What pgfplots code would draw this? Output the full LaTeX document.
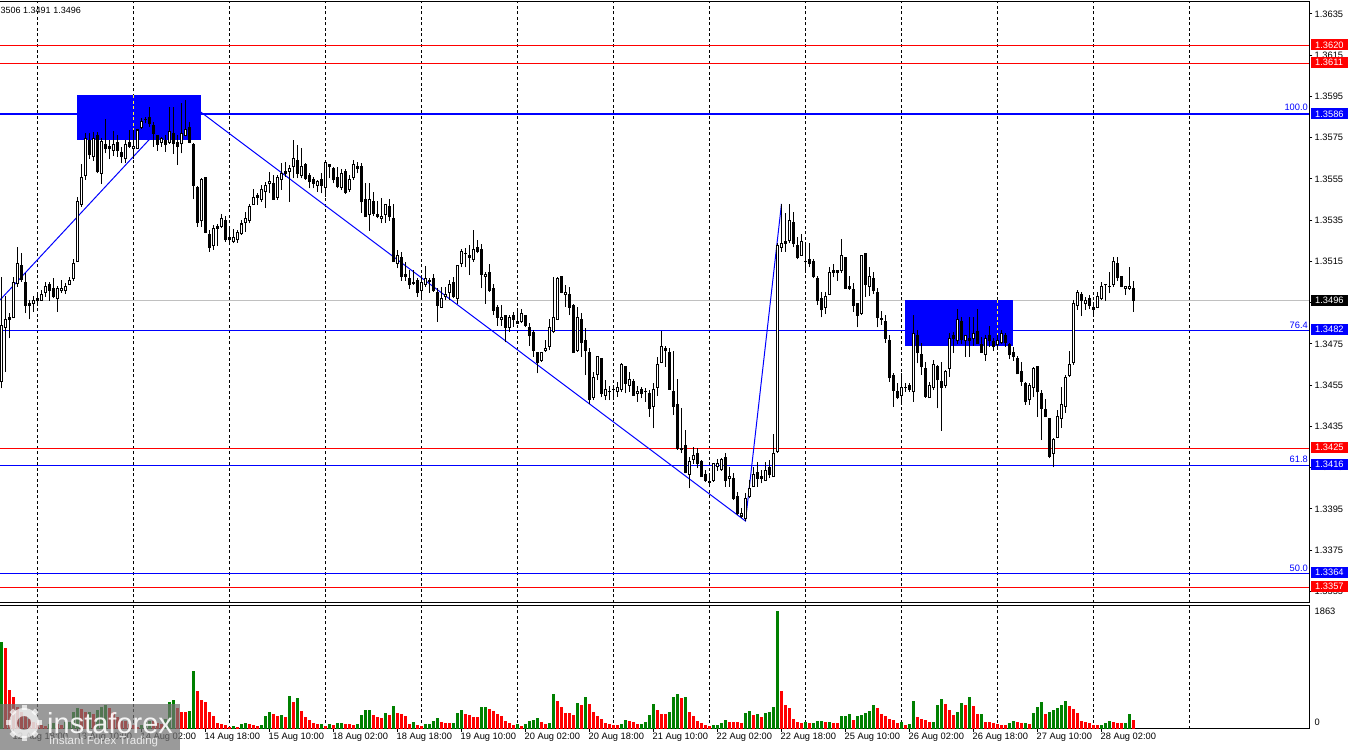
\documentclass[border=0pt]{standalone}
\usepackage{fontspec}
\setmainfont{Liberation Sans}
\usepackage{pgfplots}
\usepackage{pgfplotstable}
\pgfplotsset{compat=1.18}
\definecolor{mtgreen}{RGB}{0,128,0}
\definecolor{mtblue}{RGB}{0,0,255}
\definecolor{mtred}{RGB}{255,0,0}
\definecolor{mtgrey}{RGB}{192,192,192}
\pgfplotstableread{
k o h l c
0 1.34567 1.35076 1.34535 1.34839
1 1.34830 1.34982 1.34615 1.34871
2 1.34879 1.34898 1.34777 1.34869
3 1.34879 1.35076 1.34874 1.35049
4 1.35041 1.35218 1.35028 1.35141
5 1.35131 1.35189 1.35052 1.35060
6 1.35049 1.35092 1.34898 1.34936
7 1.34947 1.34963 1.34869 1.34936
8 1.34945 1.34982 1.34906 1.34963
9 1.34971 1.34995 1.34934 1.34960
10 1.34961 1.35012 1.34960 1.34992
11 1.35000 1.35052 1.34979 1.35031
12 1.35039 1.35052 1.34960 1.35008
13 1.35020 1.35068 1.34971 1.34979
14 1.34971 1.35031 1.34906 1.35020
15 1.35008 1.35060 1.34999 1.35020
16 1.35008 1.35044 1.34992 1.35029
17 1.35039 1.35076 1.35036 1.35058
18 1.35066 1.35162 1.35057 1.35141
19 1.35149 1.35461 1.35149 1.35442
20 1.35427 1.35623 1.35416 1.35558
21 1.35566 1.35771 1.35545 1.35747
22 1.35739 1.35771 1.35647 1.35666
23 1.35658 1.35779 1.35637 1.35747
24 1.35762 1.35779 1.35577 1.35584
25 1.35577 1.35747 1.35526 1.35731
26 1.35718 1.35839 1.35674 1.35697
27 1.35710 1.35739 1.35645 1.35697
28 1.35687 1.35783 1.35661 1.35718
29 1.35729 1.35763 1.35658 1.35687
30 1.35679 1.35707 1.35626 1.35658
31 1.35647 1.35739 1.35626 1.35718
32 1.35729 1.35788 1.35699 1.35708
33 1.35697 1.35788 1.35647 1.35708
34 1.35697 1.35790 1.35697 1.35788
35 1.35800 1.35844 1.35791 1.35828
36 1.35836 1.35852 1.35820 1.35839
37 1.35849 1.35897 1.35804 1.35817
38 1.35809 1.35828 1.35707 1.35771
39 1.35760 1.35763 1.35687 1.35718
40 1.35726 1.35755 1.35707 1.35745
41 1.35739 1.35763 1.35682 1.35718
42 1.35728 1.35897 1.35720 1.35779
43 1.35771 1.35897 1.35671 1.35720
44 1.35729 1.35763 1.35618 1.35708
45 1.35720 1.35917 1.35674 1.35771
46 1.35762 1.35933 1.35760 1.35791
47 1.35800 1.35828 1.35723 1.35728
48 1.35718 1.35723 1.35451 1.35518
49 1.35509 1.35515 1.35319 1.35338
50 1.35346 1.35553 1.35319 1.35548
51 1.35558 1.35558 1.35286 1.35290
52 1.35283 1.35303 1.35197 1.35218
53 1.35225 1.35327 1.35206 1.35309
54 1.35322 1.35332 1.35227 1.35311
55 1.35319 1.35379 1.35311 1.35359
56 1.35351 1.35372 1.35246 1.35254
57 1.35267 1.35311 1.35230 1.35254
58 1.35248 1.35306 1.35238 1.35267
59 1.35254 1.35303 1.35241 1.35290
60 1.35283 1.35351 1.35280 1.35332
61 1.35338 1.35391 1.35294 1.35359
62 1.35348 1.35429 1.35335 1.35419
63 1.35425 1.35500 1.35424 1.35461
64 1.35471 1.35480 1.35424 1.35461
65 1.35451 1.35521 1.35440 1.35500
66 1.35488 1.35537 1.35408 1.35519
67 1.35527 1.35585 1.35480 1.35539
68 1.35529 1.35569 1.35448 1.35451
69 1.35461 1.35569 1.35448 1.35558
70 1.35548 1.35626 1.35497 1.35577
71 1.35587 1.35634 1.35561 1.35576
72 1.35585 1.35618 1.35440 1.35602
73 1.35610 1.35739 1.35553 1.35650
74 1.35642 1.35715 1.35553 1.35577
75 1.35566 1.35698 1.35553 1.35612
76 1.35622 1.35629 1.35545 1.35554
77 1.35567 1.35577 1.35504 1.35535
78 1.35548 1.35561 1.35504 1.35528
79 1.35519 1.35545 1.35488 1.35538
80 1.35548 1.35577 1.35480 1.35519
81 1.35509 1.35642 1.35464 1.35630
82 1.35620 1.35622 1.35553 1.35610
83 1.35603 1.35606 1.35528 1.35545
84 1.35558 1.35606 1.35504 1.35515
85 1.35509 1.35596 1.35496 1.35577
86 1.35585 1.35596 1.35477 1.35486
87 1.35498 1.35569 1.35488 1.35548
88 1.35558 1.35642 1.35545 1.35620
89 1.35611 1.35630 1.35577 1.35600
90 1.35612 1.35625 1.35386 1.35439
91 1.35451 1.35528 1.35365 1.35367
92 1.35377 1.35528 1.35299 1.35451
93 1.35443 1.35488 1.35370 1.35383
94 1.35380 1.35443 1.35359 1.35367
95 1.35359 1.35456 1.35335 1.35367
96 1.35377 1.35428 1.35338 1.35425
97 1.35417 1.35451 1.35347 1.35367
98 1.35359 1.35428 1.35147 1.35149
99 1.35140 1.35205 1.35116 1.35178
100 1.35170 1.35197 1.35056 1.35076
101 1.35087 1.35149 1.35056 1.35076
102 1.35068 1.35108 1.35016 1.35037
103 1.35048 1.35108 1.35036 1.35045
104 1.35058 1.35068 1.34979 1.34998
105 1.35008 1.35076 1.34979 1.35048
106 1.35039 1.35129 1.35027 1.35066
107 1.35056 1.35068 1.34998 1.35053
108 1.35068 1.35087 1.35003 1.35008
109 1.35000 1.35019 1.34857 1.34937
110 1.34927 1.35027 1.34925 1.34971
111 1.34980 1.35027 1.34963 1.34992
112 1.34998 1.35060 1.34963 1.35040
113 1.35048 1.35076 1.34971 1.34979
114 1.34971 1.35132 1.34946 1.35132
115 1.35140 1.35208 1.35121 1.35199
116 1.35190 1.35213 1.35121 1.35187
117 1.35179 1.35229 1.35084 1.35170
118 1.35160 1.35302 1.35149 1.35208
119 1.35218 1.35254 1.35189 1.35199
120 1.35208 1.35237 1.35019 1.35087
121 1.35076 1.35100 1.34946 1.35087
122 1.35097 1.35140 1.35003 1.35008
123 1.35019 1.35043 1.34890 1.34914
124 1.34927 1.34939 1.34838 1.34878
125 1.34869 1.34939 1.34838 1.34878
126 1.34888 1.34890 1.34757 1.34830
127 1.34830 1.34890 1.34809 1.34878
128 1.34888 1.34906 1.34833 1.34869
129 1.34859 1.34922 1.34846 1.34848
130 1.34857 1.34917 1.34853 1.34898
131 1.34888 1.34890 1.34830 1.34838
132 1.34830 1.34853 1.34739 1.34788
133 1.34804 1.34817 1.34688 1.34717
134 1.34709 1.34712 1.34607 1.34659
135 1.34668 1.34712 1.34663 1.34709
136 1.34717 1.34769 1.34712 1.34728
137 1.34736 1.34869 1.34720 1.34830
138 1.34809 1.35076 1.34801 1.34878
139 1.34869 1.35076 1.34866 1.35068
140 1.35079 1.35079 1.34995 1.35000
141 1.34989 1.35035 1.34930 1.35000
142 1.34992 1.35027 1.34890 1.34927
143 1.34937 1.34946 1.34705 1.34707
144 1.34717 1.34930 1.34712 1.34878
145 1.34869 1.34898 1.34688 1.34756
146 1.34769 1.34826 1.34599 1.34717
147 1.34709 1.34729 1.34457 1.34478
148 1.34489 1.34615 1.34478 1.34588
149 1.34599 1.34688 1.34575 1.34688
150 1.34680 1.34680 1.34491 1.34510
151 1.34501 1.34575 1.34478 1.34530
152 1.34522 1.34546 1.34478 1.34518
153 1.34530 1.34551 1.34478 1.34527
154 1.34520 1.34567 1.34494 1.34539
155 1.34530 1.34656 1.34519 1.34651
156 1.34640 1.34643 1.34510 1.34559
157 1.34549 1.34615 1.34519 1.34578
158 1.34569 1.34578 1.34497 1.34501
159 1.34510 1.34546 1.34470 1.34520
160 1.34530 1.34539 1.34486 1.34510
161 1.34522 1.34535 1.34470 1.34518
162 1.34510 1.34527 1.34397 1.34438
163 1.34446 1.34559 1.34341 1.34530
164 1.34539 1.34688 1.34497 1.34651
165 1.34661 1.34814 1.34656 1.34738
166 1.34729 1.34740 1.34640 1.34717
167 1.34709 1.34729 1.34527 1.34530
168 1.34520 1.34717 1.34405 1.34446
169 1.34457 1.34578 1.34236 1.34244
170 1.34244 1.34438 1.34219 1.34236
171 1.34258 1.34333 1.34122 1.34126
172 1.34117 1.34203 1.34050 1.34181
173 1.34190 1.34248 1.34168 1.34210
174 1.34219 1.34244 1.34147 1.34168
175 1.34181 1.34187 1.34104 1.34106
176 1.34117 1.34139 1.34082 1.34087
177 1.34082 1.34114 1.34061 1.34079
178 1.34087 1.34174 1.34082 1.34171
179 1.34155 1.34190 1.34135 1.34171
180 1.34139 1.34195 1.34135 1.34190
181 1.34200 1.34223 1.34058 1.34087
182 1.34098 1.34151 1.34058 1.34108
183 1.34098 1.34122 1.33993 1.34000
184 1.34011 1.34033 1.33920 1.33925
185 1.33915 1.33953 1.33904 1.33930
186 1.33904 1.34029 1.33893 1.34001
187 1.34009 1.34090 1.34001 1.34050
188 1.34058 1.34155 1.34056 1.34117
189 1.34127 1.34179 1.34058 1.34097
190 1.34108 1.34139 1.34074 1.34097
191 1.34087 1.34179 1.34085 1.34137
192 1.34151 1.34187 1.34098 1.34114
193 1.34106 1.34313 1.34104 1.34219
194 1.34227 1.35238 1.34222 1.35230
195 1.35218 1.35429 1.35197 1.35238
196 1.35249 1.35383 1.35197 1.35238
197 1.35249 1.35429 1.35238 1.35348
198 1.35340 1.35391 1.35218 1.35238
199 1.35230 1.35270 1.35160 1.35168
200 1.35178 1.35281 1.35178 1.35246
201 1.35152 1.35246 1.35100 1.35149
202 1.35160 1.35241 1.35121 1.35140
203 1.35150 1.35160 1.35068 1.35076
204 1.35068 1.35079 1.34939 1.34959
205 1.34973 1.35003 1.34879 1.34915
206 1.34927 1.35003 1.34895 1.34980
207 1.34990 1.35121 1.34987 1.35097
208 1.35107 1.35140 1.35073 1.35096
209 1.35107 1.35109 1.35057 1.35096
210 1.35107 1.35257 1.35096 1.35180
211 1.35170 1.35170 1.35018 1.35020
212 1.35030 1.35079 1.35012 1.35020
213 1.35012 1.35044 1.34906 1.34936
214 1.34947 1.34950 1.34830 1.34888
215 1.34898 1.35181 1.34890 1.35180
216 1.35189 1.35192 1.34979 1.35037
217 1.35028 1.35121 1.34982 1.35078
218 1.35068 1.35100 1.34992 1.35008
219 1.35000 1.35020 1.34830 1.34879
220 1.34872 1.34911 1.34842 1.34869
221 1.34860 1.34888 1.34756 1.34777
222 1.34767 1.34793 1.34567 1.34586
223 1.34598 1.34607 1.34446 1.34526
224 1.34522 1.34559 1.34481 1.34490
225 1.34499 1.34607 1.34470 1.34541
226 1.34541 1.34562 1.34519 1.34538
227 1.34549 1.34559 1.34519 1.34528
228 1.34520 1.34890 1.34470 1.34800
229 1.34792 1.34817 1.34656 1.34708
230 1.34701 1.34753 1.34600 1.34640
231 1.34633 1.34664 1.34490 1.34497
232 1.34489 1.34567 1.34487 1.34549
233 1.34538 1.34672 1.34526 1.34651
234 1.34641 1.34648 1.34438 1.34575
235 1.34570 1.34664 1.34329 1.34540
236 1.34549 1.34624 1.34534 1.34617
237 1.34632 1.34801 1.34591 1.34777
238 1.34792 1.34810 1.34708 1.34774
239 1.34766 1.34918 1.34750 1.34869
240 1.34860 1.34882 1.34750 1.34772
241 1.34766 1.34793 1.34688 1.34790
242 1.34779 1.34879 1.34688 1.34764
243 1.34775 1.34882 1.34740 1.34801
244 1.34811 1.34918 1.34752 1.34754
245 1.34750 1.34785 1.34706 1.34708
246 1.34698 1.34793 1.34669 1.34775
247 1.34792 1.34837 1.34737 1.34764
248 1.34761 1.34777 1.34717 1.34737
249 1.34746 1.34793 1.34729 1.34766
250 1.34756 1.34818 1.34752 1.34801
251 1.34792 1.34801 1.34737 1.34756
252 1.34748 1.34753 1.34675 1.34696
253 1.34709 1.34737 1.34669 1.34688
254 1.34682 1.34691 1.34602 1.34604
255 1.34617 1.34664 1.34546 1.34567
256 1.34559 1.34567 1.34454 1.34468
257 1.34481 1.34559 1.34454 1.34549
258 1.34538 1.34640 1.34491 1.34632
259 1.34641 1.34643 1.34397 1.34517
260 1.34510 1.34527 1.34284 1.34436
261 1.34430 1.34481 1.34394 1.34397
262 1.34389 1.34392 1.34195 1.34206
263 1.34219 1.34292 1.34151 1.34287
264 1.34297 1.34430 1.34292 1.34397
265 1.34389 1.34539 1.34344 1.34457
266 1.34447 1.34599 1.34417 1.34590
267 1.34598 1.34717 1.34591 1.34651
268 1.34659 1.34963 1.34648 1.34947
269 1.34936 1.35012 1.34915 1.35002
270 1.34992 1.35003 1.34885 1.34961
271 1.34945 1.34979 1.34915 1.34963
272 1.34971 1.34987 1.34918 1.34937
273 1.34927 1.34955 1.34882 1.34918
274 1.34927 1.35003 1.34923 1.34981
275 1.34969 1.35052 1.34963 1.35029
276 1.35036 1.35039 1.34960 1.35039
277 1.35029 1.35097 1.34995 1.35026
278 1.35039 1.35170 1.35028 1.35149
279 1.35141 1.35170 1.35057 1.35070
280 1.35078 1.35079 1.35024 1.35028
281 1.35018 1.35031 1.34987 1.35029
282 1.35018 1.35121 1.35012 1.35029
283 1.35020 1.35057 1.34906 1.34961
}\candles
\pgfplotstableread{
k v g
0 1370 1
1 1286 0
2 611 0
3 501 0
4 348 0
5 264 0
6 211 0
7 158 0
8 116 0
9 95 0
10 63 0
11 47 0
12 74 1
13 95 1
14 74 0
15 63 0
16 105 1
17 116 1
18 264 1
19 327 1
20 316 0
21 264 0
22 274 1
23 237 0
24 306 1
25 343 1
26 385 1
27 327 0
28 264 0
29 184 0
30 126 0
31 126 0
32 79 0
33 63 0
34 32 0
35 63 1
36 105 1
37 132 1
38 132 0
39 95 0
40 79 0
41 158 1
42 422 1
43 464 1
44 327 0
45 264 0
46 264 0
47 279 1
48 922 1
49 606 0
50 464 0
51 432 0
52 274 0
53 211 0
54 95 0
55 84 0
56 63 0
57 32 0
58 53 1
59 32 0
60 79 1
61 95 1
62 79 0
63 69 0
64 53 0
65 63 1
66 200 1
67 274 1
68 242 0
69 206 0
70 221 1
71 190 0
72 527 1
73 432 0
74 495 1
75 290 0
76 190 0
77 142 0
78 95 0
79 79 0
80 79 1
81 47 0
82 79 1
83 63 0
84 95 1
85 95 1
86 79 0
87 79 0
88 63 0
89 79 1
90 227 1
91 306 1
92 306 1
93 227 0
94 190 0
95 174 0
96 253 1
97 221 0
98 369 1
99 253 0
100 232 0
101 200 0
102 84 0
103 105 1
104 63 0
105 53 0
106 74 1
107 74 1
108 121 1
109 169 1
110 105 0
111 90 0
112 90 0
113 90 1
114 248 1
115 295 1
116 232 0
117 216 0
118 184 0
119 184 0
120 343 1
121 343 1
122 311 0
123 279 0
124 232 0
125 200 0
126 121 0
127 90 0
128 58 0
129 74 1
130 42 0
131 74 1
132 121 1
133 137 1
134 169 1
135 105 0
136 74 0
137 90 1
138 548 1
139 437 0
140 343 0
141 248 0
142 248 0
143 216 0
144 406 1
145 374 0
146 501 1
147 390 0
148 264 0
149 200 0
150 153 0
151 90 0
152 74 0
153 58 0
154 58 0
155 74 1
156 137 1
157 121 0
158 105 0
159 74 0
160 74 1
161 105 1
162 216 1
163 390 1
164 295 0
165 232 0
166 232 0
167 264 1
168 501 1
169 548 1
170 485 0
171 501 1
172 264 0
173 200 0
174 121 0
175 90 0
176 58 0
177 42 0
178 58 1
179 58 1
180 90 1
181 137 1
182 105 0
183 105 0
184 105 0
185 90 0
186 248 1
187 279 1
188 216 0
189 232 1
190 184 0
191 248 1
192 264 1
193 343 1
194 1863 1
195 595 0
196 374 0
197 327 0
198 153 0
199 105 0
200 90 0
201 105 1
202 90 0
203 90 1
204 121 1
205 121 1
206 105 0
207 105 1
208 90 0
209 90 0
210 200 1
211 200 1
212 232 1
213 137 0
214 200 1
215 216 1
216 248 1
217 279 1
218 374 1
219 327 0
220 232 0
221 200 0
222 153 0
223 137 0
224 90 0
225 105 1
226 58 0
227 74 1
228 437 1
229 184 0
230 153 0
231 137 0
232 105 0
233 105 1
234 374 1
235 469 1
236 390 0
237 295 0
238 216 0
239 264 1
240 406 1
241 374 0
242 501 1
243 358 0
244 232 0
245 232 1
246 105 0
247 105 0
248 90 0
249 74 0
250 58 0
251 58 0
252 90 1
253 121 1
254 105 0
255 90 0
256 90 1
257 74 0
258 248 1
259 343 1
260 422 1
261 232 0
262 264 1
263 295 1
264 327 1
265 374 1
266 437 1
267 358 0
268 311 0
269 248 0
270 121 0
271 105 0
272 90 0
273 58 0
274 58 0
275 58 1
276 90 1
277 121 1
278 105 0
279 90 0
280 90 0
281 90 1
282 232 1
283 137 0
}\volumes
\begin{document}
\begin{tikzpicture}[x=1pt,y=1pt]
\useasboundingbox (0,0) rectangle (1350,750);
\fontsize{9.3}{11}\selectfont
\begin{axis}[
  at={(-2pt,147pt)}, anchor=south west,
  scale only axis, width=1311.5pt, height=601pt,
  xmin=-0.875, xmax=327, ymin=1.334936, ymax=1.364082,
  axis line style={line width=1pt,black},
  xtick={9,33,...,297}, xticklabels={}, x tick style={draw=none},
  xmajorgrids, major x grid style={black,line width=1pt,dash pattern=on 3pt off 2.5pt},
  ytick={1.3355,1.3375,1.3395,1.3415,1.3435,1.3455,1.3475,1.3495,1.3515,1.3535,1.3555,1.3575,1.3595,1.3615,1.3635},
  yticklabels={1.3355,1.3375,1.3395,1.3415,1.3435,1.3455,1.3475,1.3495,1.3515,1.3535,1.3555,1.3575,1.3595,1.3615,1.3635},
  ytick pos=right, yticklabel pos=right,
  y tick style={black,line width=1pt}, major tick length=3pt, tick align=outside,
  yticklabel style={font=\fontsize{9.3}{11}\selectfont,anchor=west,inner sep=0pt,xshift=2pt},
]
% blue rectangles
\addplot[draw=none,fill=mtblue,forget plot] coordinates {(18.875,1.35957)(49.875,1.35957)(49.875,1.35739)(18.875,1.35739)} -- cycle;
\addplot[draw=none,fill=mtblue,forget plot] coordinates {(225.875,1.34963)(252.8,1.34963)(252.8,1.34741)(225.875,1.34741)} -- cycle;
\addplot[yellow!80!white,line width=1pt,dash pattern=on 3pt off 2.5pt,forget plot] coordinates {(33,1.35957)(33,1.35739)};
\addplot[yellow!80!white,line width=1pt,dash pattern=on 3pt off 2.5pt,forget plot] coordinates {(249,1.34963)(249,1.34741)};
% level lines
\addplot[mtred,line width=1.2pt,forget plot] coordinates {(-0.875,1.361972)(327,1.361972)};
\addplot[mtred,line width=1.2pt,forget plot] coordinates {(-0.875,1.361099)(327,1.361099)};
\addplot[mtblue,line width=2pt,forget plot] coordinates {(-0.875,1.35865)(18.875,1.35865)};
\addplot[mtblue,line width=2pt,forget plot] coordinates {(49.875,1.35865)(327,1.35865)};
\addplot[mtgrey,line width=1pt,forget plot] coordinates {(-0.875,1.349606)(225.875,1.349606)};
\addplot[mtgrey,line width=1pt,forget plot] coordinates {(252.8,1.349606)(327,1.349606)};
\addplot[mtblue,line width=1.2pt,forget plot] coordinates {(-0.875,1.348151)(327,1.348151)};
\addplot[mtred,line width=1.2pt,forget plot] coordinates {(-0.875,1.342428)(327,1.342428)};
\addplot[mtblue,line width=1.2pt,forget plot] coordinates {(-0.875,1.341604)(327,1.341604)};
\addplot[mtblue,line width=1.2pt,forget plot] coordinates {(-0.875,1.336366)(327,1.336366)};
\addplot[mtred,line width=1.2pt,forget plot] coordinates {(-0.875,1.335687)(327,1.335687)};
% zigzag
\addplot[mtblue,line width=1pt,forget plot] coordinates {(-0.375,1.34963)(46,1.3593)(186,1.33891)(195,1.35429)};
% wicks
\addplot[draw=none,mark=none,forget plot,error bars/.cd,y dir=plus,y explicit,error mark=none,
  error bar style={draw=black,line width=1pt}]
  table[x=k,y=l,y error expr={\thisrow{h}-\thisrow{l}}] {\candles};
% bodies
\addplot[draw=none,mark=none,forget plot,error bars/.cd,y dir=plus,y explicit,error mark=none,
  error bar style={draw=black,line width=3pt}]
  table[x=k,y expr={min(\thisrow{o},\thisrow{c})-0.00002},y error expr={abs(\thisrow{c}-\thisrow{o})+0.00004}] {\candles};
% hollow part of rising candles
\addplot[draw=none,mark=none,forget plot,
  x filter/.expression={\thisrow{c}>\thisrow{o} ? x : nan},
  error bars/.cd,y dir=plus,y explicit,error mark=none,
  error bar style={draw=white,line width=1pt}]
  table[x=k,y expr={\thisrow{o}+0.00003},y error expr={max(\thisrow{c}-\thisrow{o}-0.00006,0)}] {\candles};
\end{axis}
\begin{axis}[
  at={(-2pt,21pt)}, anchor=south west,
  scale only axis, width=1311.5pt, height=124pt,
  xmin=-0.875, xmax=327, ymin=0, ymax=1959,
  axis line style={line width=1pt,black},
  xtick={3,19,...,275},
  xticklabels={12 Aug 18:00,13 Aug 10:00,14 Aug 02:00,14 Aug 18:00,15 Aug 10:00,18 Aug 02:00,18 Aug 18:00,19 Aug 10:00,20 Aug 02:00,20 Aug 18:00,21 Aug 10:00,22 Aug 02:00,22 Aug 18:00,25 Aug 10:00,26 Aug 02:00,26 Aug 18:00,27 Aug 10:00,28 Aug 02:00},
  xtick pos=bottom, x tick style={black,line width=1pt},
  xticklabel style={font=\fontsize{9.3}{11}\selectfont,anchor=north west,inner sep=0pt,xshift=-1pt,yshift=-1pt},
  extra x ticks={9,33,...,297}, extra x tick labels={},
  extra x tick style={major tick length=0pt,grid=major,major grid style={black,line width=1pt,dash pattern=on 3pt off 2.5pt}},
  ytick={110,1864}, yticklabels={0,1863}, ytick pos=right, yticklabel pos=right,
  y tick style={draw=none}, major tick length=3pt, tick align=outside,
  yticklabel style={font=\fontsize{9.3}{11}\selectfont,anchor=west,inner sep=0pt,xshift=2pt},
]
\addplot[ycomb,mtgreen,line width=3pt,forget plot,x filter/.expression={\thisrow{g}>0 ? x : nan}] table[x=k,y=v] {\volumes};
\addplot[ycomb,mtred,line width=3pt,forget plot,x filter/.expression={\thisrow{g}>0 ? nan : x}] table[x=k,y=v] {\volumes};
\end{axis}
% right-hand price labels
\foreach \yy/\cc/\lab in {44.9/mtred/1.3620,62.5/mtred/1.3611,114/mtblue/1.3586,300.5/black/1.3496,329.5/mtblue/1.3482,447.5/mtred/1.3425,464.5/mtblue/1.3416,572.5/mtblue/1.3364,586.5/mtred/1.3357}{
  \fill[\cc] (1311,750-\yy-5.5) rectangle (1348,750-\yy+5.5);
  \node[anchor=west,inner sep=0pt,text=white,font=\fontsize{9.3}{11}\selectfont] at (1315,750-\yy) {\lab};
}
\foreach \yy/\lab in {107/100.0,325/76.4,459/61.8,568/50.0}{
  \node[anchor=east,inner sep=0pt,text=mtblue,font=\fontsize{9.3}{11}\selectfont] at (1308,750-\yy) {\lab};
}
\node[anchor=east,inner sep=0pt,font=\fontsize{9}{11}\selectfont] at (81,740) {3506 1.3491 1.3496};
% logo
\fill[black!55,opacity=0.72] (0,0) rectangle (180,45.5);
\fill[white,opacity=0.7,even odd rule] (24,27) circle (15) (24,27) circle (7);
\foreach \a in {0,45,...,315}{\fill[white,opacity=0.7,rotate around={\a:(24,27)}] (21.5,40) rectangle (26.5,45);}
\node[anchor=west,inner sep=0pt,text=white,font=\fontsize{29}{31}\selectfont,opacity=0.9] at (47,27) {instaforex};
\node[anchor=west,inner sep=0pt,text=white,font=\fontsize{11.5}{13}\selectfont,opacity=0.8] at (49,8) {Instant Forex Trading};
\end{tikzpicture}
\end{document}
